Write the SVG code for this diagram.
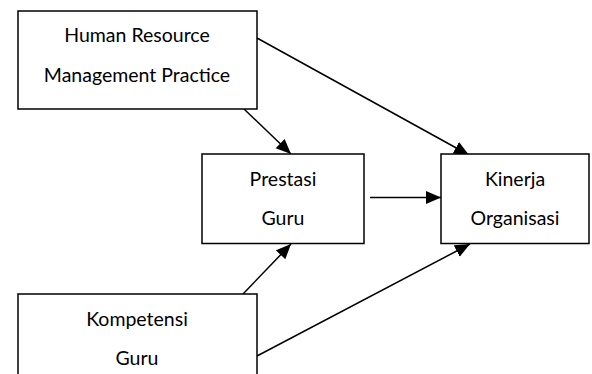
<svg xmlns="http://www.w3.org/2000/svg" width="592" height="374" viewBox="0 0 592 374">
<style>
.box{fill:#fff;stroke:#000;stroke-width:1.5}
.t{font-family:Lato,"Open Sans",sans-serif;font-size:19.5px;fill:#000;text-anchor:middle}
.c{stroke:#000;stroke-width:1.5;fill:none;marker-end:url(#ah)}
</style>
<defs>
<marker id="ah" markerUnits="userSpaceOnUse" markerWidth="16" markerHeight="14" refX="15" refY="6.5" orient="auto">
<path d="M0,0 L15,6.5 L0,13 Z" fill="#000"/>
</marker>
</defs>
<rect width="592" height="374" fill="#fff"/>
<g id="connectors">
<line class="c" x1="257" y1="38" x2="469" y2="155"/>
<line class="c" x1="244" y1="109" x2="291" y2="154"/>
<line class="c" x1="370" y1="197.5" x2="441" y2="197.5"/>
<line class="c" x1="243" y1="294" x2="291" y2="244"/>
<line class="c" x1="257" y1="356" x2="470" y2="244"/>
</g>
<g id="hrm">
<rect class="box" x="18" y="11" width="239" height="98"/>
<text class="t" x="137" y="42">Human Resource</text>
<text class="t" x="137" y="82">Management Practice</text>
</g>
<g id="prestasi">
<rect class="box" x="202" y="154" width="162" height="89.5"/>
<text class="t" x="283" y="186">Prestasi</text>
<text class="t" x="283" y="225">Guru</text>
</g>
<g id="kinerja">
<rect class="box" x="441" y="154" width="148" height="89.5"/>
<text class="t" x="515" y="186">Kinerja</text>
<text class="t" x="515" y="225">Organisasi</text>
</g>
<g id="kompetensi">
<rect class="box" x="18" y="294" width="239" height="100"/>
<text class="t" x="137" y="326">Kompetensi</text>
<text class="t" x="137" y="365">Guru</text>
</g>
</svg>
